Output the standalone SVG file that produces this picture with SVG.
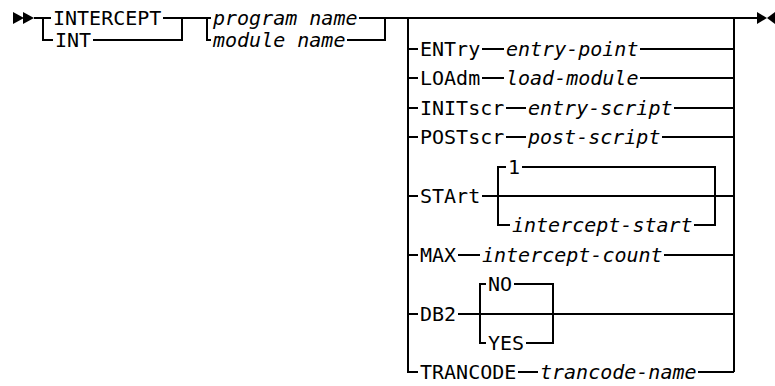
<svg xmlns="http://www.w3.org/2000/svg" width="775" height="386" viewBox="0 0 775 386">
<style>
text{font-family:"DejaVu Sans Mono","Liberation Mono",monospace;font-size:20px;fill:#000}
.v{font-style:italic}
.c path{fill:none;stroke:#000;stroke-width:2}
.a{fill:#000}
</style>
<rect width="775" height="386" fill="#fff"/>
<g id="connectors" class="c">
<path d="M34 18H51M163 18H211M359 18H757"/>
<path d="M43 18V40H53M93 40H182V18"/>
<path d="M207 18V40H211M347 40H385V18"/>
<path d="M408 18V372H418M734 18V372"/>
<path d="M408 49H418M482 49H504M640 49H734"/>
<path d="M408 78H418M482 78H504M640 78H734"/>
<path d="M408 108H418M506 108H526M674 108H734"/>
<path d="M408 137H418M506 137H526M662 137H734"/>
<path d="M408 196H418M482 196H734"/>
<path d="M510 225H498V167H506M522 167H715V225H694"/>
<path d="M408 255H418M458 255H480M664 255H734"/>
<path d="M408 314H418M458 314H734"/>
<path d="M486 343H480V284H486M514 284H553V343H526"/>
<path d="M518 372H538M698 372H734"/>
<polygon class="a" points="13,12 24,18 13,24"/>
<polygon class="a" points="23,12 34,18 23,24"/>
<polygon class="a" points="757,12 767,18 757,24"/>
<polygon class="a" points="775,12 767,18 775,24"/>
</g>
<g id="n-intercept"><text x="53" y="25">INTERCEPT</text></g>
<g id="n-int"><text x="55" y="47">INT</text></g>
<g id="n-program"><text class="v" x="213" y="25">program name</text></g>
<g id="n-module"><text class="v" x="213" y="47">module name</text></g>
<g id="n-entry"><text x="420" y="56">ENTry</text><text class="v" x="506" y="56">entry-point</text></g>
<g id="n-loadm"><text x="420" y="85">LOAdm</text><text class="v" x="506" y="85">load-module</text></g>
<g id="n-initscr"><text x="420" y="115">INITscr</text><text class="v" x="528" y="115">entry-script</text></g>
<g id="n-postscr"><text x="420" y="144">POSTscr</text><text class="v" x="528" y="144">post-script</text></g>
<g id="n-start"><text x="420" y="203">STArt</text><text x="508" y="174">1</text><text class="v" x="512" y="232">intercept-start</text></g>
<g id="n-max"><text x="420" y="262">MAX</text><text class="v" x="482" y="262">intercept-count</text></g>
<g id="n-db2"><text x="420" y="321">DB2</text><text x="488" y="291">NO</text><text x="488" y="350">YES</text></g>
<g id="n-trancode"><text x="420" y="379">TRANCODE</text><text class="v" x="540" y="379">trancode-name</text></g>
</svg>
